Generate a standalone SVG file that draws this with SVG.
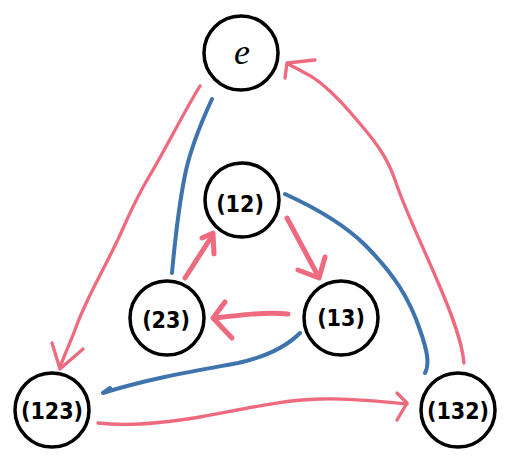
<svg xmlns="http://www.w3.org/2000/svg" width="512" height="470" viewBox="0 0 512 470">
<style>
.node circle{fill:#fff;stroke:#000;stroke-width:3.5}
.node text{font-family:"DejaVu Sans Condensed","DejaVu Sans",sans-serif;font-size:23px;font-weight:bold;text-anchor:middle;dominant-baseline:central;fill:#000}
.node text.e{font-family:"Liberation Serif",serif;font-style:italic;font-weight:normal;font-size:36px}
.pk{fill:none;stroke:#ee6a7e;stroke-linecap:round;stroke-linejoin:round;stroke-width:3.3}
.pk.thick{stroke-width:5}
.bl{fill:none;stroke:#3e73ad;stroke-linecap:round;stroke-linejoin:round;stroke-width:4}
</style>
<rect width="512" height="470" fill="#fff"/>
<g id="connectors">
  <g id="e-to-123">
    <path class="pk" d="M200,86 C185,110 165,150 150,175 C135,200 130,213 120,235 C105,268 85,300 75,330 C68,348 62,360 60,368"/>
    <path class="pk" d="M52,343 L60,369 L83,349"/>
  </g>
  <g id="132-to-e">
    <path class="pk" d="M464,363 C462,340 450,310 437,280 C420,240 405,210 395,180 C385,150 365,130 350,112 C335,95 320,80 305,73 C298,69 292,66 288,64"/>
    <path class="pk" d="M285,78 L287,63 L315,60"/>
  </g>
  <g id="12-to-13">
    <path class="pk thick" d="M287,218 L316,272"/>
    <path class="pk thick" d="M298,270 L319,278 L325,257"/>
  </g>
  <g id="13-to-23">
    <path class="pk thick" d="M288,314 C265,312 240,315 215,318"/>
    <path class="pk thick" d="M225,302 L213,318 L232,338"/>
  </g>
  <g id="23-to-12">
    <path class="pk thick" d="M185,278 L212,236"/>
    <path class="pk thick" d="M202,238 L213,233 L214,254"/>
  </g>
  <g id="123-to-132">
    <path class="pk" d="M98,423 C130,427 170,422 200,417 C240,410 280,400 320,399 C360,398 390,403 407,404"/>
    <path class="pk" d="M397,393 L407,403 L397,420"/>
  </g>
  <g id="e-23">
    <path class="bl" d="M212,99 C200,125 190,150 185,175 C178,210 175,240 172,273"/>
  </g>
  <g id="12-132">
    <path class="bl" d="M285,194 C320,210 345,225 365,245 C395,275 410,300 420,330 C427,350 430,364 425,373"/>
  </g>
  <g id="13-123">
    <path class="bl" d="M300,333 C285,348 265,357 238,363 C200,370 150,378 103,393 L110,388"/>
  </g>
</g>
<g id="node-e" class="node"><circle cx="241" cy="53" r="37"/><text class="e" x="242" y="52">e</text></g>
<g id="node-12" class="node"><circle cx="242" cy="200" r="37"/><text x="240" y="204">(12)</text></g>
<g id="node-23" class="node"><circle cx="167" cy="318" r="37"/><text x="166" y="320">(23)</text></g>
<g id="node-13" class="node"><circle cx="341" cy="318" r="37"/><text x="341" y="318">(13)</text></g>
<g id="node-123" class="node"><circle cx="52" cy="410" r="37"/><text x="52" y="411">(123)</text></g>
<g id="node-132" class="node"><circle cx="458" cy="410" r="37"/><text x="458" y="411">(132)</text></g>
</svg>
